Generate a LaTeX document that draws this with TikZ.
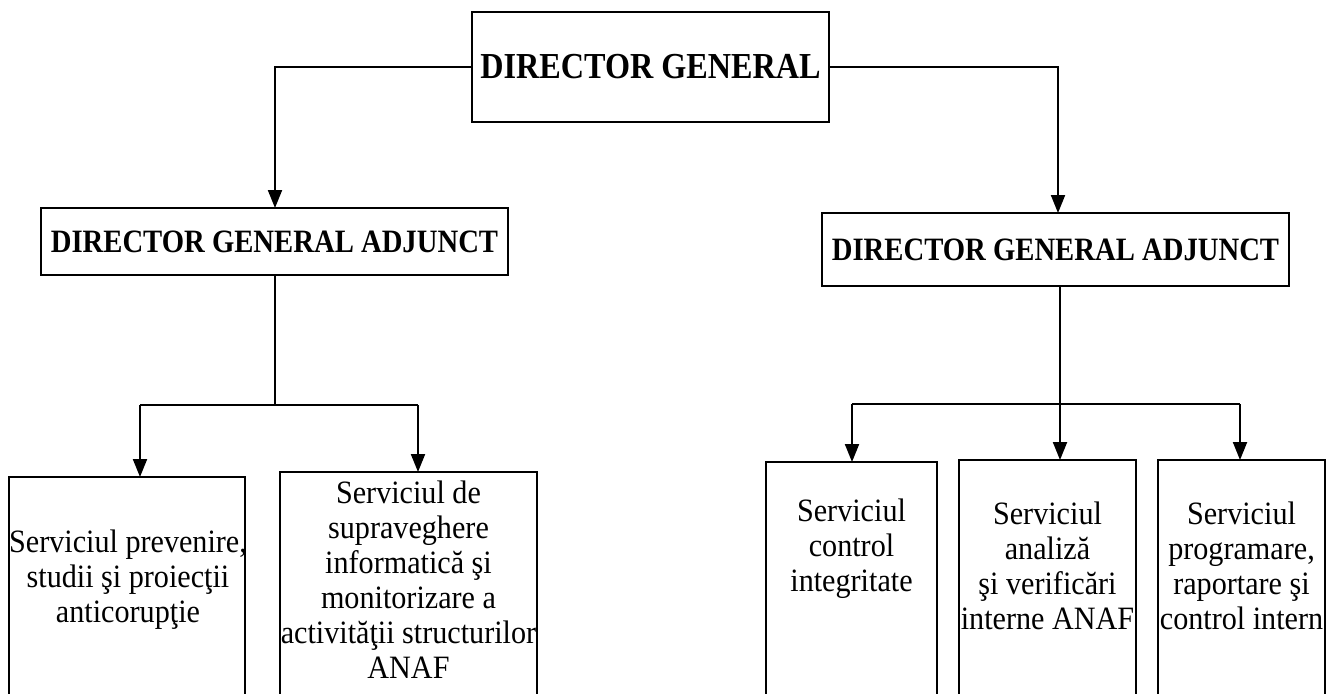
\documentclass[tikz,border=0pt]{standalone}
\usepackage{fontspec}
\setmainfont{Liberation Serif}
\newfontfamily\condserif{Liberation Serif}[FakeStretch=0.88]
\newfontfamily\bodyserif{Liberation Serif}[FakeStretch=0.925]
\usetikzlibrary{arrows.meta}
\tikzset{
  boxnode/.style={draw, line width=0.7pt, inner sep=0pt, outer sep=0pt, align=center},
  headtop/.style={boxnode, font=\condserif\bfseries\fontsize{18.3}{21}\selectfont},
  headsub/.style={boxnode, font=\condserif\bfseries\fontsize{16.3}{19}\selectfont},
  svcbox/.style={boxnode},
  svctext/.style={inner sep=0pt, align=center, font=\bodyserif\fontsize{16.3}{17.5}\selectfont},
  conn/.style={line width=1pt},
  arr/.style={conn, -{Triangle[length=9pt, width=7pt]}}
}
\begin{document}
\begin{tikzpicture}[x=0.5pt, y=-0.5pt]
\clip (0,0) rectangle (1331,693);
\fill[white] (0,0) rectangle (1331,693);
% top
\node[headtop, minimum width=178.5pt, minimum height=55pt] (dg) at (650.5,67) {DIRECTOR GENERAL};
\node[headsub, minimum width=233.5pt, minimum height=33.5pt] (dgaL) at (274.5,241.5) {DIRECTOR GENERAL ADJUNCT};
\node[headsub, minimum width=233.5pt, minimum height=36.5pt] (dgaR) at (1055.5,249.5) {DIRECTOR GENERAL ADJUNCT};
% service boxes
\node[svcbox, minimum width=118pt, minimum height=121.5pt] (b1) at (127,598.5) {};
\node[svcbox, minimum width=128.5pt, minimum height=124pt] (b2) at (408.5,596) {};
\node[svcbox, minimum width=85.5pt, minimum height=129pt] (b3) at (851.5,591) {};
\node[svcbox, minimum width=88.5pt, minimum height=130pt] (b4) at (1047.5,590) {};
\node[svcbox, minimum width=83.5pt, minimum height=130pt] (b5) at (1241.5,590) {};
% texts
\node[svctext] (t1) at (128,580) {Serviciul prevenire,\\studii şi proiecţii\\anticorupţie};
\node[svctext] (t2) at (408.5,580) {Serviciul de\\supraveghere\\informatică şi\\monitorizare a\\activităţii structurilor\\ANAF};
\node[svctext] (t3) at (851.5,549) {Serviciul\\control\\integritate};
\node[svctext] (t4) at (1047.5,566) {Serviciul\\analiză\\şi verificări\\interne ANAF};
\node[svctext] (t5) at (1241.5,566) {Serviciul\\programare,\\raportare şi\\control intern};
% coordinates
\coordinate (cl) at (275,67);
\coordinate (cr) at (1058,67);
\coordinate (jl) at (275,405);
\coordinate (jl1) at (140,405);
\coordinate (jl2) at (418,405);
\coordinate (jr) at (1060,404);
\coordinate (jr1) at (852,404);
\coordinate (jr3) at (1240,404);
% connectors
\draw[arr] (dg.west) -- (cl) -- (cl |- dgaL.north);
\draw[arr] (dg.east) -- (cr) -- (cr |- dgaR.north);
\draw[conn] (jl |- dgaL.south) -- (jl);
\draw[conn] (jl1) -- (jl2);
\draw[arr] (jl1) -- (jl1 |- b1.north);
\draw[arr] (jl2) -- (jl2 |- b2.north);
\draw[arr] (jr |- dgaR.south) -- (jr |- b4.north);
\draw[conn] (jr1) -- (jr3);
\draw[arr] (jr1) -- (jr1 |- b3.north);
\draw[arr] (jr3) -- (jr3 |- b5.north);
\end{tikzpicture}
\end{document}
